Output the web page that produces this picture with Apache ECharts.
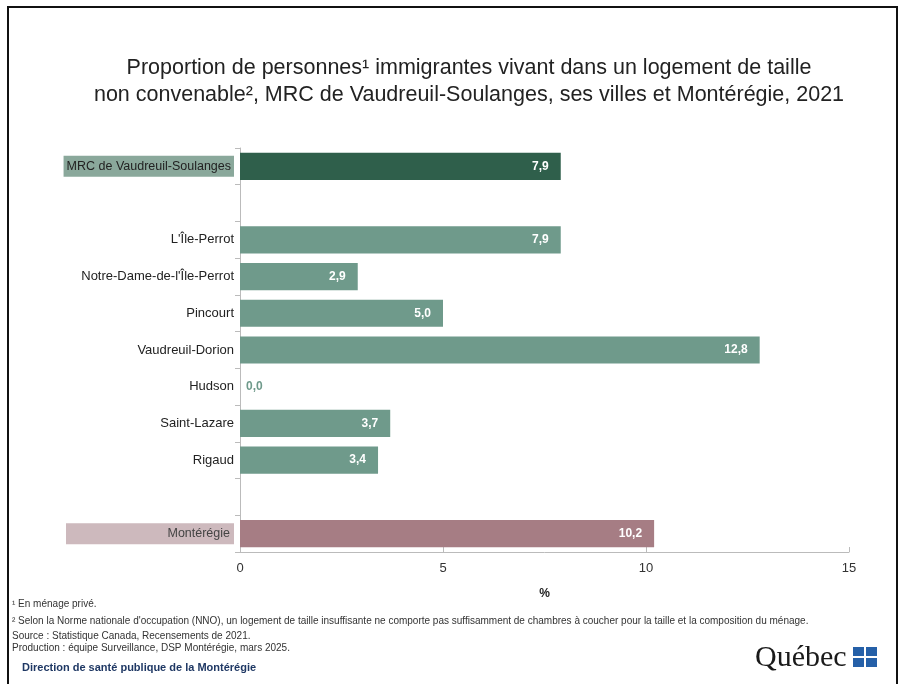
<!DOCTYPE html>
<html>
<head>
<meta charset="utf-8">
<script src="https://cdn.jsdelivr.net/npm/echarts@6/dist/echarts.min.js"></script>
<style>
  body { margin: 0; background: #fff; }
  #main { width: 904px; height: 684px; }
</style>
</head>
<body>
<div id="main"></div>
<script>
// catégories (les chaînes vides servent d'espaces entre les groupes)
const categories = ['MRC de Vaudreuil-Soulanges', '', "L'Île-Perrot", "Notre-Dame-de-l'Île-Perrot", 'Pincourt',
  'Vaudreuil-Dorion', 'Hudson', 'Saint-Lazare', 'Rigaud', ' ', 'Montérégie'];
const values = [7.9, null, 7.9, 2.9, 5.0, 12.8, 0.0, 3.7, 3.4, null, 10.2];
const xTicks = [0, 5, 10, 15];

const cMrc = '#2f5f4b', cVille = '#6f9a8b', cMonte = '#a67d84';
const noteFont = '10px Liberation Sans Narrow, Liberation Sans, sans-serif';

let myChart = echarts.init(document.getElementById('main'));

let data = values.map(function (v, i) {
  if (v === null) return null;
  let color = i === 0 ? cMrc : (i === 10 ? cMonte : cVille);
  let item = { value: v, itemStyle: { color: color } };
  if (v === 0) {
    item.label = { position: 'right', color: cVille, distance: 6 };
  }
  return item;
});

let option = {
  animation: false,
  textStyle: { fontFamily: 'Liberation Sans, Arial, sans-serif' },
  title: {
    text: 'Proportion de personnes¹ immigrantes vivant dans un logement de taille\nnon convenable², MRC de Vaudreuil-Soulanges, ses villes et Montérégie, 2021',
    left: 464, top: 50, textAlign: 'center',
    textStyle: { fontSize: 21.5, fontWeight: 'normal', color: '#222', lineHeight: 27 }
  },
  graphic: [
    { type: 'rect', shape: { x: 8, y: 7, width: 889, height: 690 },
      style: { fill: 'none', stroke: '#111', lineWidth: 2 } },
    { type: 'text', x: 12, y: 599, style: { text: '¹ En ménage privé.', font: noteFont, fill: '#333' } },
    { type: 'text', x: 12, y: 616, style: { text: "² Selon la Norme nationale d'occupation (NNO), un logement de taille insuffisante ne comporte pas suffisamment de chambres à coucher pour la taille et la composition du ménage.", font: noteFont, fill: '#333' } },
    { type: 'text', x: 12, y: 630, style: { text: 'Source : Statistique Canada, Recensements de 2021.\nProduction : équipe Surveillance, DSP Montérégie, mars 2025.', font: noteFont, fill: '#333', lineHeight: 12 } },
    { type: 'text', x: 22, y: 662, style: { text: 'Direction de santé publique de la Montérégie', font: 'bold 11px Liberation Sans Narrow, Liberation Sans, sans-serif', fill: '#1f3864' } },
    { type: 'text', x: 755, y: 643, style: { text: 'Québec', font: '30px Liberation Serif, DejaVu Serif, serif', fill: '#1a1a1a' } },
    { type: 'rect', shape: { x: 853, y: 647, width: 11, height: 9 }, style: { fill: '#2560a8' } },
    { type: 'rect', shape: { x: 866, y: 647, width: 11, height: 9 }, style: { fill: '#2560a8' } },
    { type: 'rect', shape: { x: 853, y: 658, width: 11, height: 9 }, style: { fill: '#2560a8' } },
    { type: 'rect', shape: { x: 866, y: 658, width: 11, height: 9 }, style: { fill: '#2560a8' } }
  ],
  grid: { left: 240, right: 55, top: 148, bottom: 132, containLabel: false },
  xAxis: {
    type: 'value', min: 0, max: 15, interval: 5,
    name: '%', nameLocation: 'middle', nameGap: 36,
    nameTextStyle: { fontSize: 12, fontWeight: 'bold', color: '#222' },
    axisLine: { show: true, lineStyle: { color: '#bbb' } },
    axisTick: { show: true, inside: true, length: 5, lineStyle: { color: '#bbb' } },
    axisLabel: { fontSize: 13, color: '#333', margin: 10,
      formatter: function (v) { return xTicks.indexOf(v) >= 0 ? String(v) : ''; } },
    splitLine: { show: false }
  },
  yAxis: {
    type: 'category', data: categories, inverse: true,
    axisLine: { show: true, lineStyle: { color: '#bbb' } },
    axisTick: { show: true, length: 5, lineStyle: { color: '#bbb' } },
    axisLabel: {
      fontSize: 13, color: '#222', margin: 6,
      formatter: function (v) {
        if (v === 'MRC de Vaudreuil-Soulanges') return '{mrc|' + v + '}';
        if (v === 'Montérégie') return '{mon|' + v + '}';
        return v;
      },
      rich: {
        mrc: { fontSize: 12.5, color: '#222', backgroundColor: '#8aa89b', padding: [4, 3, 4, 3] },
        mon: { fontSize: 12.5, color: '#444', backgroundColor: '#cdb9bd', padding: [4, 4, 4, 4], width: 160, align: 'right' }
      }
    }
  },
  series: [{
    type: 'bar', data: data, barCategoryGap: '26%',
    label: {
      show: true, position: 'insideRight', distance: 12,
      color: '#fff', fontWeight: 'bold', fontSize: 12,
      formatter: function (p) { return p.value.toFixed(1).replace('.', ','); }
    }
  }]
};
myChart.setOption(option);
</script>
</body>
</html>
